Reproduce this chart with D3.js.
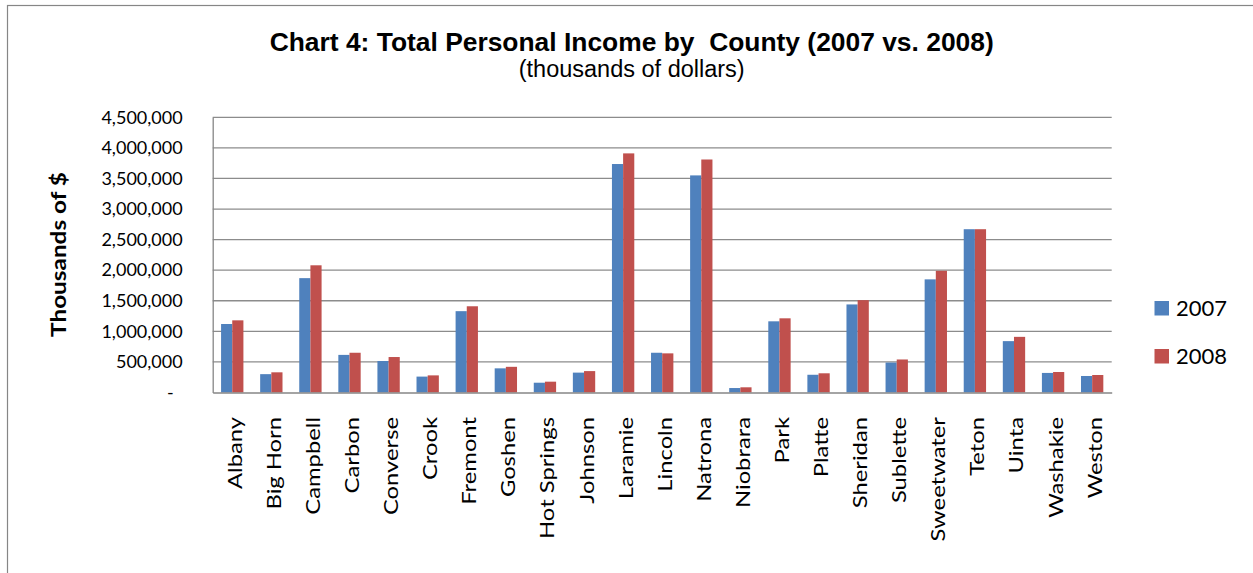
<!DOCTYPE html>
<html>
<head>
<meta charset="utf-8">
<script src="https://cdn.jsdelivr.net/npm/d3@7"></script>
<style>
  html, body { margin: 0; padding: 0; background: #fff; }
  svg { display: block; }
</style>
</head>
<body>
<svg id="chart" width="1253" height="573"></svg>
<script>
// ---- Data ----
const counties = ["Albany","Big Horn","Campbell","Carbon","Converse","Crook","Fremont","Goshen","Hot Springs","Johnson","Laramie","Lincoln","Natrona","Niobrara","Park","Platte","Sheridan","Sublette","Sweetwater","Teton","Uinta","Washakie","Weston"];
const series = ["2007","2008"];
const values2007 = [1120000,300000,1870000,615000,515000,260000,1330000,395000,160000,325000,3736000,650000,3550000,73000,1164000,290000,1440000,490000,1850000,2670000,840000,320000,270000];
const values2008 = [1180000,330000,2080000,650000,580000,280000,1410000,420000,177000,350000,3910000,640000,3810000,85000,1213000,314000,1510000,540000,1990000,2670000,910000,335000,286000];
const yTicks = [0,500000,1000000,1500000,2000000,2500000,3000000,3500000,4000000,4500000];
const titleText = "Chart 4: Total Personal Income by\u00a0 County (2007 vs. 2008)";
const subtitleText = "(thousands of dollars)";
const yAxisTitle = "Thousands of $";

const colors = {"2007": "#4f81bd", "2008": "#c0504d"};
const labelFont = "Lato, 'Open Sans', sans-serif";

const svg = d3.select("#chart");

// outer border
svg.append("rect")
  .attr("x", 7.5).attr("y", 5.5)
  .attr("width", 1300).attr("height", 700)
  .attr("fill", "none").attr("stroke", "#868686").attr("stroke-width", 1.2);

const plot = {left: 212.7, right: 1111.7, top: 117.3, bottom: 392.5};

const x = d3.scaleBand().domain(counties)
  .range([plot.left, plot.right])
  .paddingInner(1.5 / 3.5).paddingOuter(0.75 / 3.5);
const xs = d3.scaleBand().domain(series).range([0, x.bandwidth()]);
const y = d3.scaleLinear().domain([0, 4500000]).range([plot.bottom, plot.top]);

// gridlines
svg.append("g").selectAll("line").data(yTicks.filter(d => d > 0)).join("line")
  .attr("x1", plot.left).attr("x2", plot.right)
  .attr("y1", d => y(d)).attr("y2", d => y(d))
  .attr("stroke", "#8c8c8c").attr("stroke-width", 1.3);

// y axis tick labels
const yAxis = d3.axisLeft(y).tickValues(yTicks).tickSize(0).tickPadding(30)
  .tickFormat(d => d === 0 ? "-" : d3.format(",")(d));
const gy = svg.append("g").attr("transform", `translate(${plot.left},0)`).call(yAxis);
gy.select(".domain").attr("stroke", "#868686").attr("stroke-width", 1.3);
gy.selectAll("text")
  .attr("font-family", labelFont).attr("font-size", 18).attr("fill", "#000")
  .attr("dx", d => d === 0 ? -9 : 0);

// bars
const data = counties.map((c, i) => ({county: c, vals: [
  {s: "2007", v: values2007[i]}, {s: "2008", v: values2008[i]}]}));
const groups = svg.append("g").selectAll("g").data(data).join("g")
  .attr("transform", d => `translate(${x(d.county)},0)`);
groups.selectAll("rect").data(d => d.vals).join("rect")
  .attr("x", d => xs(d.s))
  .attr("width", xs.bandwidth())
  .attr("y", d => y(d.v))
  .attr("height", d => y(0) - y(d.v))
  .attr("fill", d => colors[d.s]);

// x axis line
const xAxis = d3.axisBottom(x).tickSize(0).tickFormat("");
const gx = svg.append("g").attr("transform", `translate(0,${plot.bottom})`).call(xAxis);
gx.select(".domain").attr("stroke", "#868686").attr("stroke-width", 1.6);

// x labels, rotated
const xl = svg.append("g").selectAll("text").data(counties).join("text")
  .text(d => d)
  .attr("font-family", labelFont).attr("font-size", 19).attr("fill", "#000")
  .attr("text-anchor", "end");
let refLen = 0;
xl.each(function(d) { if (d === "Hot Springs") refLen = this.getComputedTextLength(); });
const sx = refLen ? 122 / refLen : 1.25;
xl.attr("transform", d => `translate(${x(d) + x.bandwidth() / 2 + 9.5},417) rotate(-90) scale(${sx},1)`);

// y axis title
const yt = svg.append("text").text(yAxisTitle)
  .attr("font-family", labelFont).attr("font-weight", "bold").attr("font-size", 21)
  .attr("text-anchor", "middle").attr("fill", "#000");
const ytLen = yt.node().getComputedTextLength();
yt.attr("transform", `translate(66,254.5) rotate(-90) scale(${165 / ytLen},1)`);

// title
svg.append("text").text(titleText)
  .attr("x", 631.7).attr("y", 51)
  .attr("text-anchor", "middle")
  .attr("font-family", "'Liberation Sans', Arial, sans-serif")
  .attr("font-weight", "bold").attr("font-size", 26.4).attr("fill", "#000");
svg.append("text").text(subtitleText)
  .attr("x", 631.7).attr("y", 77)
  .attr("text-anchor", "middle")
  .attr("font-family", "'Liberation Sans', Arial, sans-serif")
  .attr("font-size", 23.5).attr("fill", "#000");

// legend
const legend = svg.append("g").selectAll("g").data(series).join("g")
  .attr("transform", (d, i) => `translate(1154.5,${301 + i * 48})`);
legend.append("rect").attr("width", 14.5).attr("height", 14.5)
  .attr("fill", d => colors[d]);
legend.append("text").text(d => d)
  .attr("x", 21.5).attr("y", 14.7)
  .attr("font-family", labelFont).attr("font-size", 22).attr("fill", "#000");
</script>
</body>
</html>
